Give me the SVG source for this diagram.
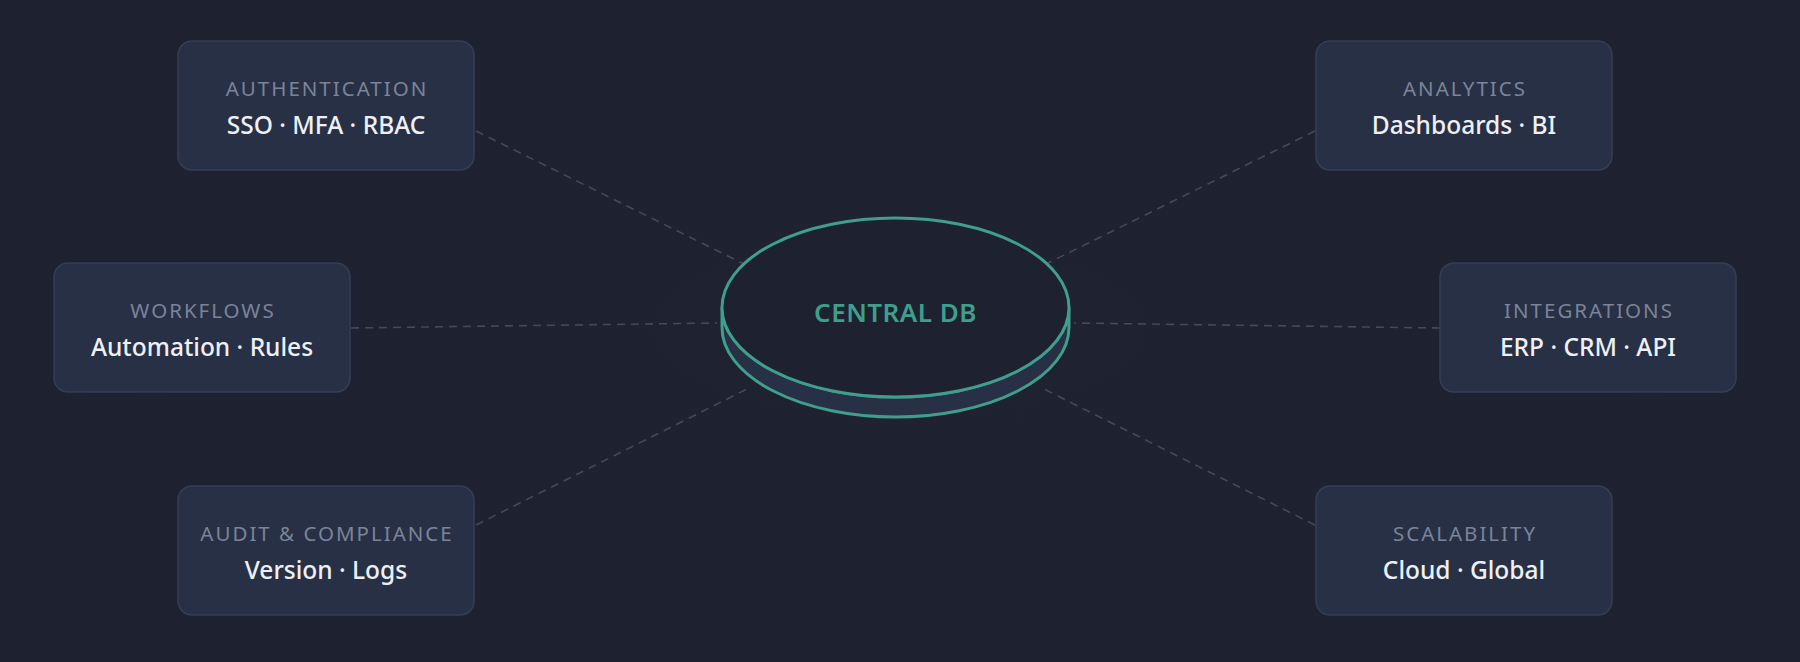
<svg xmlns="http://www.w3.org/2000/svg" width="1800" height="662" viewBox="0 0 1800 662">
  <defs>
    <radialGradient id="bg" cx="50%" cy="50%" r="70%">
      <stop offset="0" stop-color="#1e2231"/>
      <stop offset="1" stop-color="#1d2130"/>
    </radialGradient>
    <style>
      .box { fill: #283046; stroke: #353e54; stroke-width: 1.5; }
      .title { font-family: "Noto Sans", "Open Sans", sans-serif; font-size: 20.5px; fill: #7b8498; letter-spacing: 2px; text-anchor: middle; }
      .sub { font-family: "Noto Sans", "Open Sans", sans-serif; font-size: 24.5px; font-weight: 500; fill: #eef0f5; text-anchor: middle; }
      .conn { stroke: #424a5e; stroke-width: 1.6; stroke-dasharray: 8 6; fill: none; }
      .db { stroke: #3f9e8c; stroke-width: 3; }
      .dbtext { font-family: "Noto Sans", "Open Sans", sans-serif; font-size: 26px; font-weight: 600; fill: #3f9e8c; text-anchor: middle; letter-spacing: 0.5px; }
    </style>
  </defs>
  <rect width="1800" height="662" fill="url(#bg)"/>

  <g id="connectors">
    <line class="conn" x1="476" y1="131" x2="744" y2="264"/>
    <line class="conn" x1="351" y1="328" x2="717" y2="323"/>
    <line class="conn" x1="476" y1="525" x2="747" y2="389"/>
    <line class="conn" x1="1315" y1="131" x2="1046" y2="264"/>
    <line class="conn" x1="1440" y1="328" x2="1074" y2="323"/>
    <line class="conn" x1="1315" y1="525" x2="1044" y2="389"/>
  </g>

  <g id="central-db">
    <path class="db" fill="#283046" d="M722,307.5 V327.5 A173.5,89.5 0 0 0 1069,327.5 V307.5 A173.5,89.5 0 0 1 722,307.5 Z"/>
    <ellipse class="db" fill="#1e2230" cx="895.5" cy="307.5" rx="173.5" ry="89.5"/>
    <text class="dbtext" x="895.5" y="322">CENTRAL DB</text>
  </g>

  <g id="authentication">
    <rect class="box" x="178" y="41" width="296" height="129" rx="14"/>
    <text class="title" x="327" y="96">AUTHENTICATION</text>
    <text class="sub" x="326" y="134">SSO · MFA · RBAC</text>
  </g>
  <g id="workflows">
    <rect class="box" x="54" y="263" width="296" height="129" rx="14"/>
    <text class="title" x="203" y="318">WORKFLOWS</text>
    <text class="sub" x="202" y="356">Automation · Rules</text>
  </g>
  <g id="audit">
    <rect class="box" x="178" y="486" width="296" height="129" rx="14"/>
    <text class="title" x="327" y="541">AUDIT &amp; COMPLIANCE</text>
    <text class="sub" x="326" y="579">Version · Logs</text>
  </g>
  <g id="analytics">
    <rect class="box" x="1316" y="41" width="296" height="129" rx="14"/>
    <text class="title" x="1465" y="96">ANALYTICS</text>
    <text class="sub" x="1464" y="134">Dashboards · BI</text>
  </g>
  <g id="integrations">
    <rect class="box" x="1440" y="263" width="296" height="129" rx="14"/>
    <text class="title" x="1589" y="318">INTEGRATIONS</text>
    <text class="sub" x="1588" y="356">ERP · CRM · API</text>
  </g>
  <g id="scalability">
    <rect class="box" x="1316" y="486" width="296" height="129" rx="14"/>
    <text class="title" x="1465" y="541">SCALABILITY</text>
    <text class="sub" x="1464" y="579">Cloud · Global</text>
  </g>
</svg>
